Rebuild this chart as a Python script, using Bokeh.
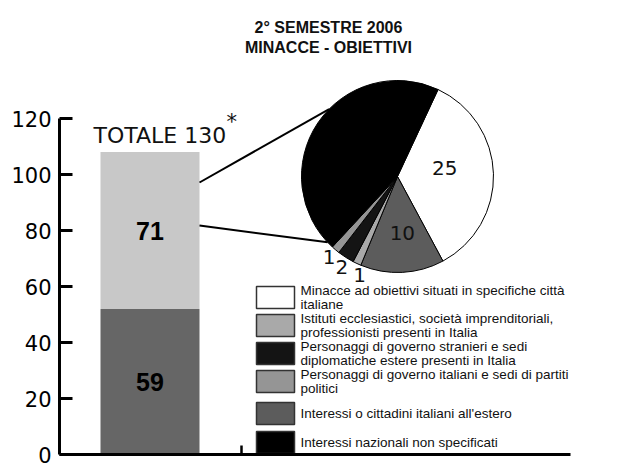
import numpy as np
from bokeh.plotting import figure
from bokeh.models import Range1d, FixedTicker
from bokeh.core.properties import value
from bokeh.embed import file_html
from bokeh.resources import INLINE

# ---------------- data ----------------
title_lines = ["2° SEMESTRE 2006", "MINACCE - OBIETTIVI"]
total_text = "TOTALE 130"
total_mark = "*"

bar_counts = [59, 71]                # printed values
bar_bottoms = [0, 52]                # segment extents as drawn against the axis
bar_tops = [52, 108]
bar_colors = ["#666666", "#c8c8c8"]

y_ticks = [0, 20, 40, 60, 80, 100, 120]

legend_labels = [
    "Minacce ad obiettivi situati in specifiche città\nitaliane",
    "Istituti ecclesiastici, società imprenditoriali,\nprofessionisti presenti in Italia",
    "Personaggi di governo stranieri e sedi\ndiplomatiche estere presenti in Italia",
    "Personaggi di governo italiani e sedi di partiti\npolitici",
    "Interessi o cittadini italiani all'estero",
    "Interessi nazionali non specificati",
]
legend_colors = ["#ffffff", "#a9a9a9", "#141414", "#959595", "#5c5c5c", "#000000"]

# pie slices (clockwise from the top-right boundary), index into legend categories
pie_cats = [0, 4, 1, 2, 3, 5]
pie_values = [25, 10, 1, 2, 1, 32]
pie_texts = ["25", "10", "1", "2", "1"]

# ---------------- layout helpers ----------------
W, H = 630, 467
LEFT = 59
X0 = 59            # canvas x of the y axis
Y0 = 454           # canvas y of value 0
SCALE = (Y0 - 118) / 120.0


def dx(px):
    return px - X0


def dy(py):
    return (Y0 - py) / SCALE


p = figure(width=W, height=H, output_backend="svg", toolbar_location=None,
           x_range=Range1d(0, W - LEFT), y_range=Range1d(0, dy(0)),
           min_border_left=LEFT, min_border_right=0, min_border_top=0,
           min_border_bottom=H - Y0)
p.outline_line_color = None
p.grid.visible = False
p.background_fill_color = "white"
p.border_fill_color = "white"

# y axis
ya = p.yaxis[0]
ya.ticker = FixedTicker(ticks=y_ticks)
ya.bounds = (0, 120)
ya.axis_line_width = 3
ya.major_tick_line_width = 3
ya.major_tick_in = 13
ya.major_tick_out = 0
ya.minor_tick_in = 0
ya.minor_tick_out = 0
ya.major_label_text_font = "DejaVu Sans"
ya.major_label_text_font_size = "21px"
ya.major_label_text_color = "black"
ya.major_label_standoff = 8

# x axis
xt = int(round(dx(241)))
xa = p.xaxis[0]
xa.ticker = FixedTicker(ticks=[xt])
xa.major_label_overrides = {xt: ""}
xa.bounds = (0, dx(570))
xa.axis_line_width = 3
xa.major_tick_line_width = 2.5
xa.major_tick_in = 9
xa.major_tick_out = 0
xa.minor_tick_in = 0
xa.minor_tick_out = 0
xa.major_label_standoff = 0

# ---------------- bar ----------------
bar_x = dx(149.5)
p.vbar(x=bar_x, width=99, bottom=bar_bottoms, top=bar_tops,
       fill_color=bar_colors, line_color=None)
mids = [(b + t) / 2 for b, t in zip(bar_bottoms, bar_tops)]
p.text(x=[bar_x] * 2, y=mids, text=[str(v) for v in bar_counts],
       text_align="center", text_baseline="middle",
       text_font=value("Liberation Sans"), text_font_style="bold",
       text_font_size="25px", text_color="black")

p.text(x=[dx(93)], y=[dy(135)], text=[total_text], text_align="left",
       text_baseline="alphabetic", text_font=value("DejaVu Sans"),
       text_font_size="22px", text_color="#111111")
p.text(x=[dx(226)], y=[dy(109)], text=[total_mark], text_align="left",
       text_baseline="top", text_font=value("DejaVu Sans"),
       text_font_size="21px", text_color="#111111")

# ---------------- title ----------------
p.text(x=[dx(328)] * 2, y=[dy(27), dy(47)], text=title_lines,
       text_align="center", text_baseline="alphabetic",
       text_font=value("Liberation Sans"), text_font_style="bold",
       text_font_size="16px", text_color="#111111")

# ---------------- pie ----------------
cx, cy = dx(397), dy(176)
R = 96
total = float(sum(pie_values))
start = 65.0
cum = np.concatenate([[0], np.cumsum(pie_values)])
a_hi = start - cum[:-1] / total * 360.0
a_lo = start - cum[1:] / total * 360.0
p.wedge(x=cx, y=cy, radius=R, radius_units="screen",
        start_angle=np.radians(a_lo), end_angle=np.radians(a_hi),
        fill_color=[legend_colors[c] for c in pie_cats],
        line_color="black", line_width=1)

mid = (a_hi + a_lo) / 2.0
lab_r = np.array([48, 57, 106, 106, 106])
lab_nudge = np.array([8, 2, 4, 1, 0])
ang = np.radians(mid[:5] + lab_nudge)
lx = cx + lab_r * np.cos(ang)
ly = cy + lab_r * np.sin(ang) / SCALE
p.text(x=lx, y=ly, text=pie_texts, text_align="center",
       text_baseline="middle", text_font=value("DejaVu Sans"),
       text_font_size="20px", text_color="#111111")

# connectors from bar to pie
conn_ang = np.radians([135.4, -136.7])
p.segment(x0=[dx(199)] * 2, y0=[dy(182), dy(225)],
          x1=cx + R * np.cos(conn_ang), y1=cy + R * np.sin(conn_ang) / SCALE,
          line_color="black", line_width=2)

# ---------------- legend ----------------
leg_y = [dy(v) for v in [297, 325, 353, 381, 413, 442]]
p.rect(x=[dx(275)] * 6, y=leg_y, width=38, height=22, width_units="screen",
       height_units="screen", fill_color=legend_colors, line_color="#333333",
       line_width=1.5)
p.text(x=[dx(300)] * 6, y=leg_y, text=legend_labels, text_align="left",
       text_baseline="middle", text_font=value("Liberation Sans"),
       text_font_size="13.5px", text_line_height=0.93, text_color="#111111")

open("out.html", "w").write(file_html(p, INLINE))
